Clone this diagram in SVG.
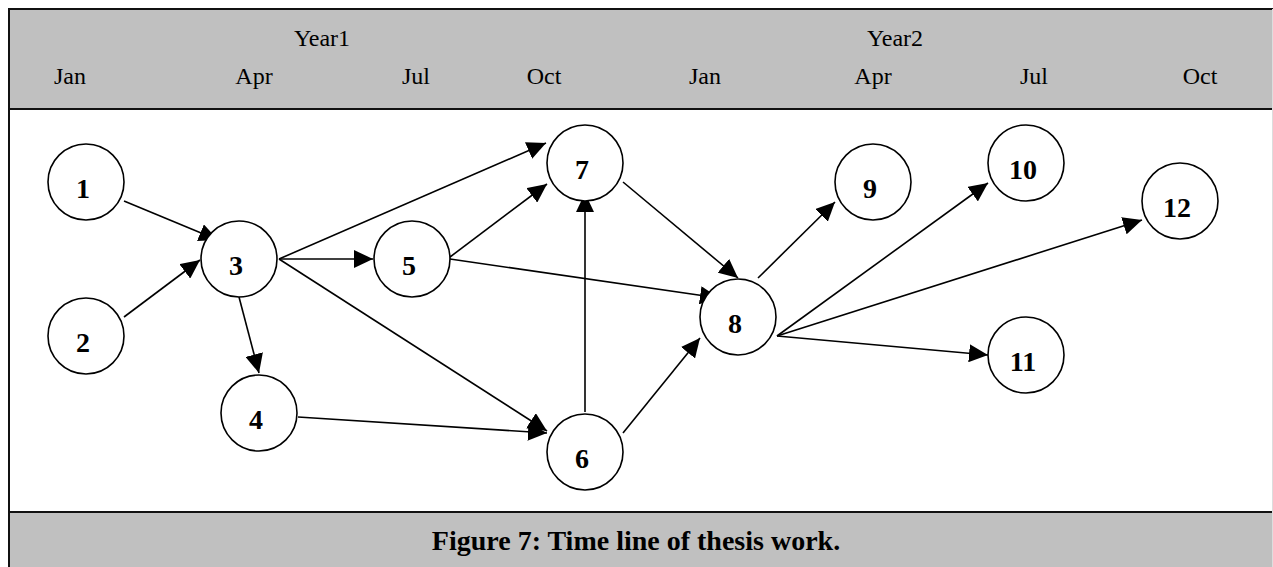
<svg xmlns="http://www.w3.org/2000/svg" width="1273" height="567" viewBox="0 0 1273 567">
<style>
.band{fill:#c0c0c0}
.hdr{font-family:"Liberation Serif","Times New Roman",serif;font-size:24px;fill:#000;text-anchor:middle}
.cap{font-family:"Liberation Serif","Times New Roman",serif;font-size:28px;font-weight:bold;fill:#000;text-anchor:middle}
.node circle{fill:#fff;stroke:#000;stroke-width:1.6}
.node text{font-family:"Liberation Serif","Times New Roman",serif;font-size:28px;font-weight:bold;fill:#000;text-anchor:middle}
.edges line{stroke:#000;stroke-width:1.6;marker-end:url(#arr)}
</style>
<defs>
<marker id="arr" viewBox="0 0 19 18" refX="19" refY="9" markerWidth="19" markerHeight="18" orient="auto" markerUnits="userSpaceOnUse">
<path d="M0,0 L19,9 L0,18 z" fill="#000"/>
</marker>
</defs>
<rect x="0" y="0" width="1273" height="567" fill="#fff"/>
<g id="header">
<rect class="band" x="8" y="9" width="1265" height="100"/>
<text class="hdr" x="322" y="46">Year1</text>
<text class="hdr" x="895" y="46">Year2</text>
<text class="hdr" x="70" y="84">Jan</text>
<text class="hdr" x="254" y="84">Apr</text>
<text class="hdr" x="416" y="84">Jul</text>
<text class="hdr" x="544" y="84">Oct</text>
<text class="hdr" x="705" y="84">Jan</text>
<text class="hdr" x="873" y="84">Apr</text>
<text class="hdr" x="1034" y="84">Jul</text>
<text class="hdr" x="1200" y="84">Oct</text>
</g>
<g id="caption">
<rect class="band" x="8" y="512" width="1265" height="55"/>
<text class="cap" x="636" y="550">Figure 7: Time line of thesis work.</text>
</g>
<g id="frame" fill="none">
<line x1="8" y1="9" x2="1273" y2="9" stroke="#111" stroke-width="2"/>
<line x1="8" y1="109" x2="1273" y2="109" stroke="#111" stroke-width="2"/>
<line x1="8" y1="512" x2="1273" y2="512" stroke="#111" stroke-width="2"/>
<line x1="9" y1="8" x2="9" y2="567" stroke="#111" stroke-width="2"/>
<line x1="1272.5" y1="9" x2="1272.5" y2="567" stroke="#ddd" stroke-width="1"/>
</g>
<g class="edges" id="connectors">
<line x1="124" y1="201" x2="218" y2="240"/>
<line x1="124" y1="317" x2="200" y2="260"/>
<line x1="279" y1="259" x2="373" y2="259"/>
<line x1="279" y1="259" x2="546" y2="143"/>
<line x1="279" y1="259" x2="547" y2="431"/>
<line x1="239" y1="297" x2="259" y2="373"/>
<line x1="298" y1="417" x2="547" y2="433"/>
<line x1="450" y1="257" x2="547" y2="184"/>
<line x1="450" y1="259" x2="719" y2="298"/>
<line x1="585" y1="412" x2="585" y2="193"/>
<line x1="623" y1="182" x2="738" y2="278"/>
<line x1="623" y1="433" x2="700" y2="338"/>
<line x1="758" y1="278" x2="835" y2="202"/>
<line x1="777" y1="336" x2="988" y2="183"/>
<line x1="777" y1="336" x2="1142" y2="220"/>
<line x1="777" y1="336" x2="988" y2="355"/>
</g>
<g id="n1" class="node"><circle cx="86" cy="182" r="38"/><text x="83" y="198">1</text></g>
<g id="n2" class="node"><circle cx="86" cy="336" r="38"/><text x="83" y="352">2</text></g>
<g id="n3" class="node"><circle cx="239" cy="259" r="38"/><text x="236" y="275">3</text></g>
<g id="n4" class="node"><circle cx="259" cy="413" r="38"/><text x="256" y="429">4</text></g>
<g id="n5" class="node"><circle cx="412" cy="259" r="38"/><text x="409" y="275">5</text></g>
<g id="n6" class="node"><circle cx="585" cy="452" r="38"/><text x="582" y="468">6</text></g>
<g id="n7" class="node"><circle cx="585" cy="163" r="38"/><text x="582" y="179">7</text></g>
<g id="n8" class="node"><circle cx="738" cy="317" r="38"/><text x="735" y="333">8</text></g>
<g id="n9" class="node"><circle cx="873" cy="182" r="38"/><text x="870" y="198">9</text></g>
<g id="n10" class="node"><circle cx="1026" cy="163" r="38"/><text x="1023" y="179">10</text></g>
<g id="n11" class="node"><circle cx="1026" cy="355" r="38"/><text x="1023" y="371">11</text></g>
<g id="n12" class="node"><circle cx="1180" cy="201" r="38"/><text x="1177" y="217">12</text></g>
</svg>
